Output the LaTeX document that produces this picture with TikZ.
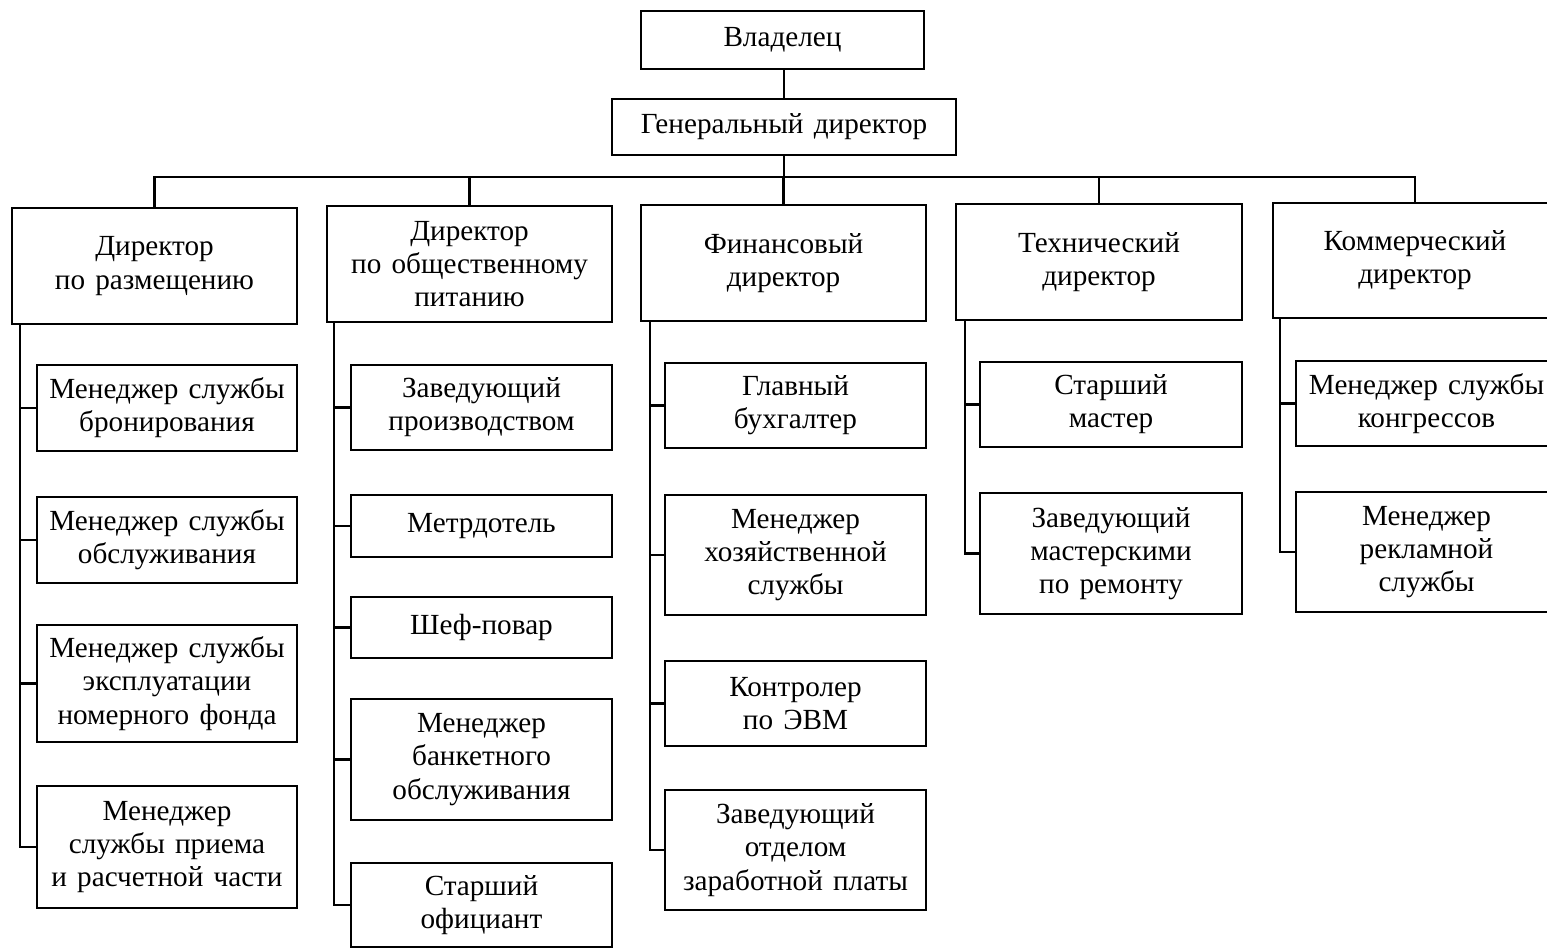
\documentclass[tikz,border=0pt]{standalone}
\usepackage{fontspec}
\setmainfont[WordSpace={1.4,1,1}]{Liberation Serif}
\begin{document}
\begin{tikzpicture}[x=0.5pt,y=-0.5pt,
  box/.style={draw, line width=1.4pt, inner sep=0pt, align=center,
    font=\fontsize{14.6}{16.6}\selectfont},
  link/.style={line width=1.1pt}]
\useasboundingbox (0,0) rectangle (1547,948);
\newcommand\obox[6]{\node[box, minimum width={(#4-#2)*0.5pt}, minimum height={(#5-#3)*0.5pt}] (#1) at ({(#2+#4)/2},{(#3+#5)/2}) {#6};}
% top
\obox{own}{641}{11}{924}{69}{Владелец}
\obox{gd}{612}{99}{956}{155}{Генеральный директор}
% directors
\obox{d1}{12}{208}{297}{324}{Директор\\по размещению}
\obox{d2}{327}{206}{612}{322}{Директор\\по общественному\\питанию}
\obox{d3}{641}{205}{926}{321}{Финансовый\\директор}
\obox{d4}{956}{204}{1242}{320}{Технический\\директор}
\obox{d5}{1273}{203}{1557}{318}{Коммерческий\\директор}
% column 1
\obox{c11}{37}{365}{297}{451}{Менеджер службы\\бронирования}
\obox{c12}{37}{497}{297}{583}{Менеджер службы\\обслуживания}
\obox{c13}{37}{625}{297}{742}{Менеджер службы\\эксплуатации\\номерного фонда}
\obox{c14}{37}{786}{297}{908}{Менеджер\\службы приема\\и расчетной части}
% column 2
\obox{c21}{351}{365}{612}{450}{Заведующий\\производством}
\obox{c22}{351}{495}{612}{557}{Метрдотель}
\obox{c23}{351}{597}{612}{658}{Шеф-повар}
\obox{c24}{351}{699}{612}{820}{Менеджер\\банкетного\\обслуживания}
\obox{c25}{351}{863}{612}{947}{Старший\\официант}
% column 3
\obox{c31}{665}{363}{926}{448}{Главный\\бухгалтер}
\obox{c32}{665}{495}{926}{615}{Менеджер\\хозяйственной\\службы}
\obox{c33}{665}{661}{926}{746}{Контролер\\по ЭВМ}
\obox{c34}{665}{790}{926}{910}{Заведующий\\отделом\\заработной платы}
% column 4
\obox{c41}{980}{362}{1242}{447}{Старший\\мастер}
\obox{c42}{980}{493}{1242}{614}{Заведующий\\мастерскими\\по ремонту}
% column 5
\obox{c51}{1296}{361}{1557}{446}{Менеджер службы\\конгрессов}
\obox{c52}{1296}{492}{1557}{612}{Менеджер\\рекламной\\службы}
% bus and spines
\coordinate (bus) at (0,177);
\coordinate (k1) at (20,0);
\coordinate (k2) at (334,0);
\coordinate (k3) at (650,0);
\coordinate (k4) at (965,0);
\coordinate (k5) at (1280,0);
\draw[link] (gd.north) -- (gd.north |- own.south);
\draw[link] (gd.south) -- (gd.south |- bus);
\draw[link] (d1.north) -- (d1.north |- bus) -- (d5.north |- bus) -- (d5.north);
\foreach \d in {d2,d3,d4} \draw[link] (\d.north) -- (\d.north |- bus);
% column 1
\draw[link] (d1.south -| k1) |- (c14.west);
\foreach \c in {c11,c12,c13} \draw[link] (\c.west -| k1) -- (\c.west);
% column 2
\draw[link] (d2.south -| k2) |- (c25.west);
\foreach \c in {c21,c22,c23,c24} \draw[link] (\c.west -| k2) -- (\c.west);
% column 3
\draw[link] (d3.south -| k3) |- (c34.west);
\foreach \c in {c31,c32,c33} \draw[link] (\c.west -| k3) -- (\c.west);
% column 4
\draw[link] (d4.south -| k4) |- (c42.west);
\draw[link] (c41.west -| k4) -- (c41.west);
% column 5
\draw[link] (d5.south -| k5) |- (c52.west);
\draw[link] (c51.west -| k5) -- (c51.west);
\end{tikzpicture}
\end{document}
